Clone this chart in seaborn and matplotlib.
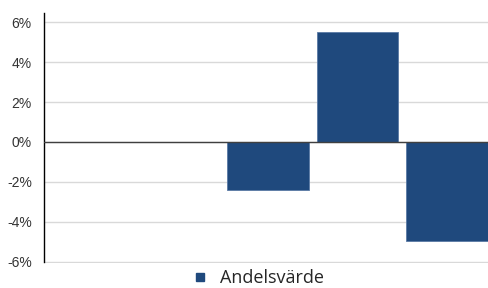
import numpy as np
import pandas as pd
import matplotlib
matplotlib.use("Agg")
import matplotlib.pyplot as plt
from matplotlib.ticker import PercentFormatter
from matplotlib.lines import Line2D
import seaborn as sns

# Data (percent)
periods = ["P1", "P2", "P3", "P4", "P5"]
andelsvarde = [np.nan, np.nan, -2.4, 5.5, -4.95]
series_name = "Andelsvärde"
bar_color = "#1F497D"

sns.set_theme(style="white")
plt.rcParams["font.family"] = ["Liberation Sans", "DejaVu Sans"]
plt.rcParams["axes.unicode_minus"] = False

df = pd.DataFrame({"period": periods, "value": andelsvarde})

fig = plt.figure(figsize=(4.89, 2.88), dpi=100)
ax = fig.add_axes([0.0906, 0.0885, 0.9094, 0.8675])

sns.barplot(data=df, x="period", y="value", order=periods, color=bar_color,
            saturation=1, width=0.91, edgecolor="#5a7aa5", linewidth=0.6,
            ax=ax, zorder=3)

ax.set_ylim(-6.03, 6.47)
ax.set_xlim(-0.5, 4.47)
ax.set_yticks([-6, -4, -2, 0, 2, 4, 6])
ax.yaxis.set_major_formatter(PercentFormatter(decimals=0))
ax.grid(axis="y", color="#d9d9d9", linewidth=1, zorder=0)
ax.axhline(0, color="#404040", linewidth=1, zorder=4)
ax.set_xticks([])
ax.set_xlabel("")
ax.set_ylabel("")
ax.tick_params(axis="y", length=0, pad=9, labelsize=10, labelcolor="#333333")
for s in ["top", "right", "bottom"]:
    ax.spines[s].set_visible(False)
ax.spines["left"].set_color("black")
ax.spines["left"].set_linewidth(1)
ax.spines["left"].set_bounds(-6, 6.47)

handle = Line2D([], [], marker="s", linestyle="none", markersize=6,
                markerfacecolor=bar_color, markeredgecolor=bar_color)
fig.legend([handle], [series_name], loc="center", bbox_to_anchor=(0.525, 0.033),
           frameon=False, handletextpad=0.5, handlelength=1.2,
           prop={"family": ["Open Sans", "DejaVu Sans"], "size": 13})

fig.savefig("out.png", dpi=100)
